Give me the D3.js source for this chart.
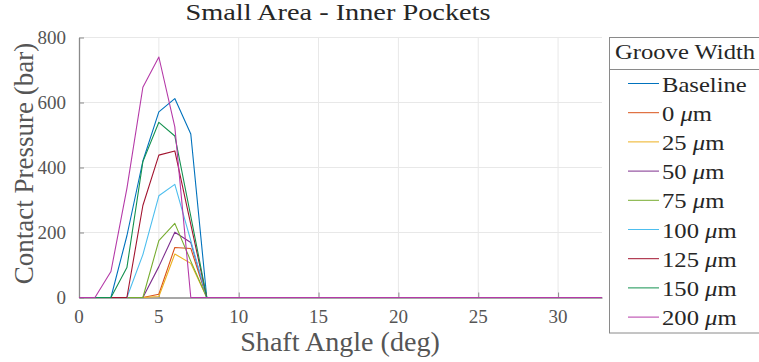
<!DOCTYPE html>
<html>
<head>
<meta charset="utf-8">
<script src="https://cdn.jsdelivr.net/npm/d3@7/dist/d3.min.js"></script>
<style>
  html, body { margin: 0; padding: 0; background: #fff; }
  svg { display: block; }
</style>
</head>
<body>
<svg id="chart" width="759" height="362"></svg>
<script>
// Shaft angle samples (deg)
const angles = [0, 1, 2, 3, 4, 5, 6, 7, 8, 9, 10, 11, 12, 13, 14, 15, 16, 17, 18, 19, 20,
                21, 22, 23, 24, 25, 26, 27, 28, 29, 30, 31, 32, 33];

// Contact pressure (bar) per groove width; zero beyond 8 deg
const baseline = [0, 0, 0, 190, 420, 571, 612, 503, 0, 0, 0, 0, 0, 0, 0, 0, 0, 0, 0, 0, 0, 0, 0, 0, 0, 0, 0, 0, 0, 0, 0, 0, 0, 0];
const w0       = [0, 0, 0, 0, 0, 10, 154, 151, 0, 0, 0, 0, 0, 0, 0, 0, 0, 0, 0, 0, 0, 0, 0, 0, 0, 0, 0, 0, 0, 0, 0, 0, 0, 0];
const w25      = [0, 0, 0, 0, 0, 3, 134, 105, 0, 0, 0, 0, 0, 0, 0, 0, 0, 0, 0, 0, 0, 0, 0, 0, 0, 0, 0, 0, 0, 0, 0, 0, 0, 0];
const w50      = [0, 0, 0, 0, 0, 95, 201, 169, 0, 0, 0, 0, 0, 0, 0, 0, 0, 0, 0, 0, 0, 0, 0, 0, 0, 0, 0, 0, 0, 0, 0, 0, 0, 0];
const w75      = [0, 0, 0, 0, 0, 175, 228, 112, 0, 0, 0, 0, 0, 0, 0, 0, 0, 0, 0, 0, 0, 0, 0, 0, 0, 0, 0, 0, 0, 0, 0, 0, 0, 0];
const w100     = [0, 0, 0, 0, 132, 313, 348, 175, 0, 0, 0, 0, 0, 0, 0, 0, 0, 0, 0, 0, 0, 0, 0, 0, 0, 0, 0, 0, 0, 0, 0, 0, 0, 0];
const w125     = [0, 0, 0, 0, 283, 438, 451, 225, 0, 0, 0, 0, 0, 0, 0, 0, 0, 0, 0, 0, 0, 0, 0, 0, 0, 0, 0, 0, 0, 0, 0, 0, 0, 0];
const w150     = [0, 0, 0, 92, 418, 539, 497, 250, 0, 0, 0, 0, 0, 0, 0, 0, 0, 0, 0, 0, 0, 0, 0, 0, 0, 0, 0, 0, 0, 0, 0, 0, 0, 0];
const w200     = [0, 0, 80, 336, 647, 740, 525, 0, 0, 0, 0, 0, 0, 0, 0, 0, 0, 0, 0, 0, 0, 0, 0, 0, 0, 0, 0, 0, 0, 0, 0, 0, 0, 0];

const seriesNames  = ["Baseline", "0", "25", "50", "75", "100", "125", "150", "200"];
const seriesValues = [baseline, w0, w25, w50, w75, w100, w125, w150, w200];
const seriesColors = ["#0072BD", "#D95319", "#EDB120", "#7E2F8E", "#77AC30",
                      "#4DBEEE", "#A2142F", "#13914F", "#B53AA8"];

const xTicks = [0, 5, 10, 15, 20, 25, 30];
const yTicks = [0, 200, 400, 600, 800];

const svg = d3.select("#chart");
const m = { left: 79, right: 602, top: 37.5, bottom: 297.5 };

const x = d3.scaleLinear().domain([0, 32.75]).range([m.left, m.right]);
const y = d3.scaleLinear().domain([0, 800]).range([m.bottom, m.top]);

// every label is a top-level <text> in the serif face
function label(size, fill) {
  return svg.append("text").attr("font-family", '"Liberation Serif"')
    .style("font-size", size + "px").attr("fill", fill);
}

// grid
const grid = svg.append("g");
grid.selectAll("line.gx").data(xTicks.slice(1)).join("line")
  .attr("x1", d => x(d)).attr("x2", d => x(d))
  .attr("y1", m.top).attr("y2", m.bottom)
  .attr("stroke", "#e8e8e8").attr("stroke-width", 1);
grid.selectAll("line.gy").data(yTicks.slice(1)).join("line")
  .attr("x1", m.left).attr("x2", m.right)
  .attr("y1", d => y(d)).attr("y2", d => y(d))
  .attr("stroke", "#e8e8e8").attr("stroke-width", 1);

// axes: lines and ticks from d3, labels placed from the same scales
const axisColor = "#8a8a8a";
const xAxis = svg.append("g").attr("transform", `translate(0,${m.bottom})`)
  .call(d3.axisBottom(x).tickValues(xTicks).tickSize(-5).tickFormat("").tickSizeOuter(0));
const yAxis = svg.append("g").attr("transform", `translate(${m.left},0)`)
  .call(d3.axisLeft(y).tickValues(yTicks).tickSize(-5).tickFormat("").tickSizeOuter(0));
[xAxis, yAxis].forEach(a => {
  a.select(".domain").attr("stroke", axisColor).attr("stroke-width", 1.3);
  a.selectAll(".tick line").attr("stroke", axisColor);
  a.selectAll(".tick text").remove();
});
xTicks.forEach(v => {
  label(19, "#555").attr("x", x(v)).attr("y", 322.5).attr("text-anchor", "middle").text(v);
});
yTicks.forEach(v => {
  label(19, "#555").attr("x", m.left - 13).attr("y", y(v) + 6.5).attr("text-anchor", "end").text(v);
});

// series lines
svg.append("clipPath").attr("id", "plotclip").append("rect")
  .attr("x", m.left).attr("y", m.top - 2).attr("width", m.right - m.left).attr("height", m.bottom - m.top + 4);
const line = d3.line().x((d, i) => x(angles[i])).y(d => y(d));
svg.append("g").attr("clip-path", "url(#plotclip)")
  .selectAll("path").data(seriesValues).join("path")
  .attr("d", d => line(d))
  .attr("fill", "none")
  .attr("stroke", (d, i) => seriesColors[i])
  .attr("stroke-width", 1.1)
  .attr("stroke-linejoin", "round");

// titles (serif glyphs widened a little with a horizontal scale)
label(24, "#262626").attr("transform", "translate(338,20) scale(1.18,1)")
  .attr("text-anchor", "middle").text("Small Area - Inner Pockets");
label(27, "#555").attr("transform", "translate(340,351) scale(1.04,1)")
  .attr("text-anchor", "middle").text("Shaft Angle (deg)");
label(27, "#555").attr("transform", "translate(33,163.5) rotate(-90)")
  .attr("text-anchor", "middle").text("Contact Pressure (bar)");

// legend box, header and entries
svg.append("rect").attr("x", 609.5).attr("y", 37.5).attr("width", 160).attr("height", 295.5)
  .attr("fill", "#fff").attr("stroke", "#8a8a8a").attr("stroke-width", 1);
svg.append("line").attr("x1", 609.5).attr("x2", 770).attr("y1", 69.5).attr("y2", 69.5)
  .attr("stroke", "#8a8a8a");
label(22, "#262626").attr("transform", "translate(615,58.5) scale(1.12,1)").text("Groove Width");
seriesNames.forEach((name, i) => {
  const cy = 83.5 + i * 29.2;
  svg.append("line").attr("x1", 628).attr("x2", 659).attr("y1", cy).attr("y2", cy)
    .attr("stroke", seriesColors[i]).attr("stroke-width", 1);
  const t = label(22, "#262626").attr("transform", `translate(662,${cy + 8}) scale(1.12,1)`);
  if (name === "Baseline") { t.text(name); }
  else {
    t.append("tspan").text(name + " ");
    t.append("tspan").attr("font-style", "italic").text("\u03bc");
    t.append("tspan").text("m");
  }
});
</script>
</body>
</html>
